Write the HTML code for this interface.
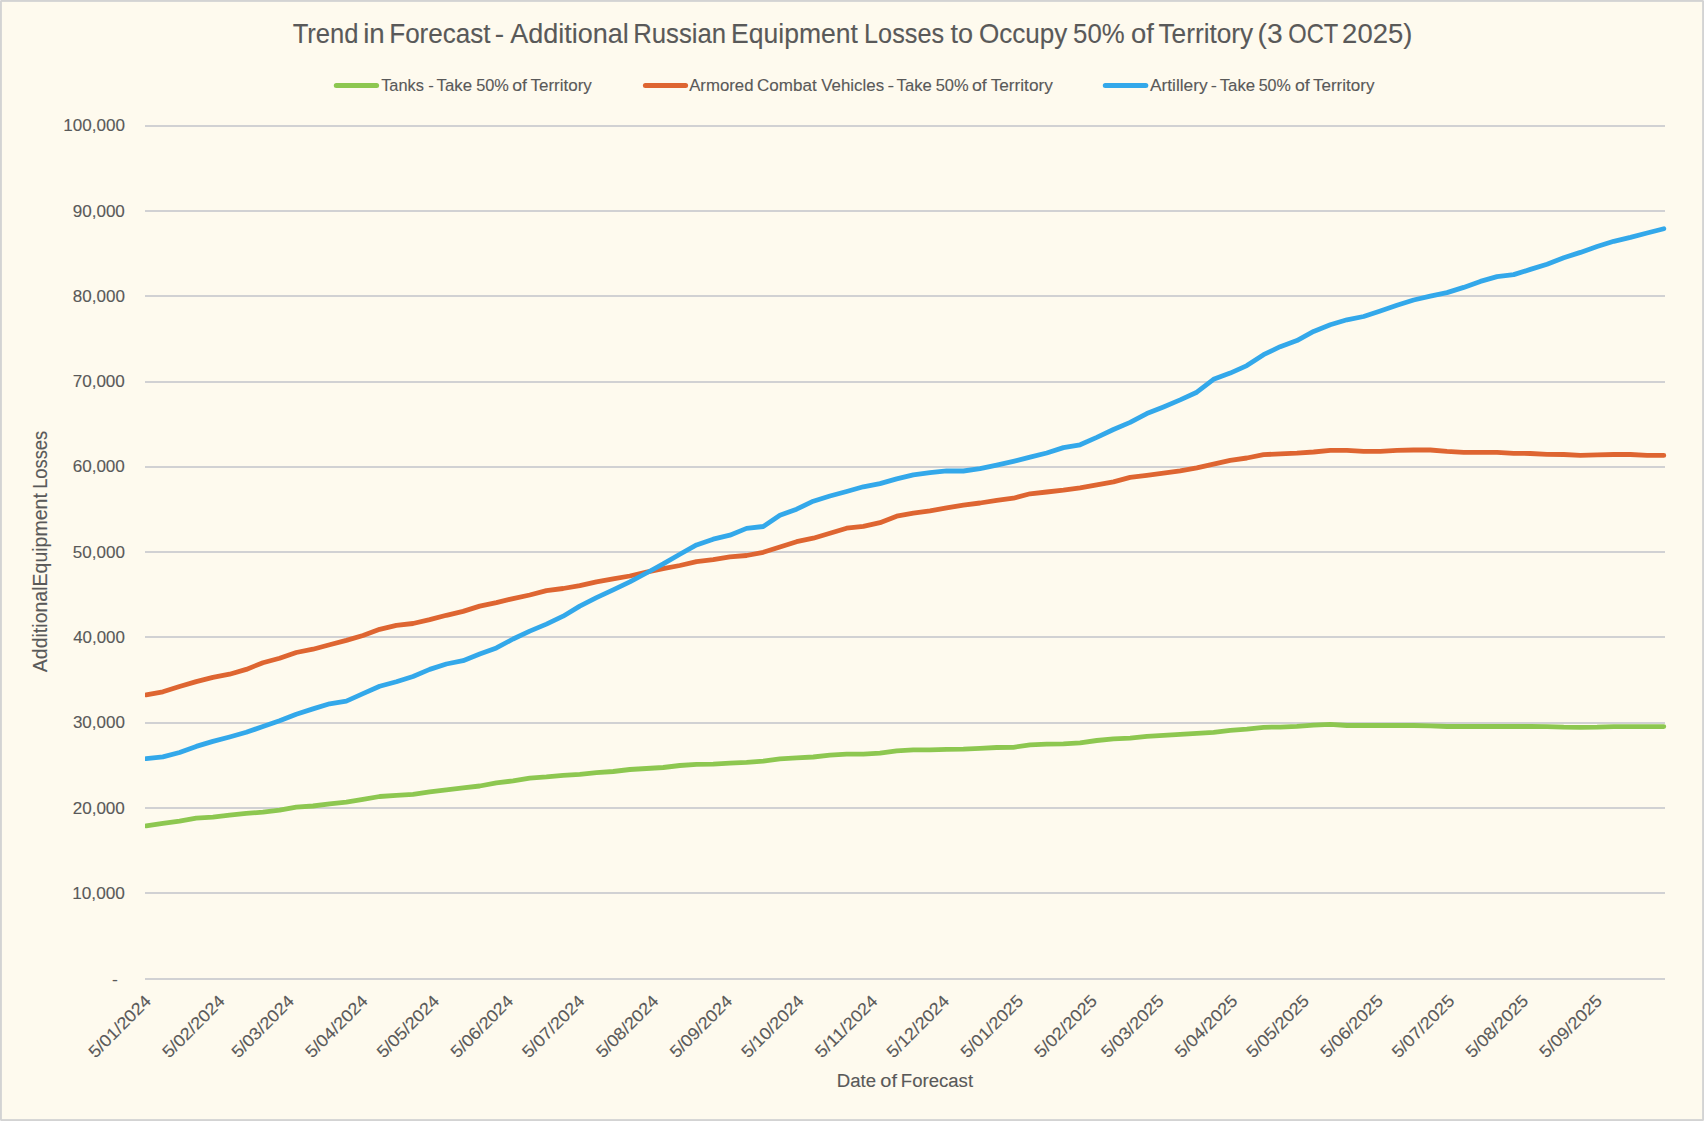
<!DOCTYPE html>
<html lang="en"><head><meta charset="utf-8"><title>Trend in Forecast - Additional Russian Equipment Losses</title>
<style>
html,body{margin:0;padding:0;background:#fefaee;}
body{width:1704px;height:1121px;overflow:hidden;}
svg{display:block;}
svg text{font-family:"Liberation Sans",sans-serif;fill:#595959;stroke:#595959;stroke-width:0.12px;}
</style></head><body>
<svg width="1704" height="1121" viewBox="0 0 1704 1121">
<rect x="0" y="0" width="1704" height="1121" fill="#d3d3d3"/>
<rect x="1.9" y="1.9" width="1700.2" height="1117.2" fill="#fefaee"/>
<g fill="#e4e4e4"><rect x="0" y="0" width="1" height="1"/><rect x="1703" y="0" width="1" height="1"/><rect x="0" y="1120" width="1" height="1"/><rect x="1703" y="1120" width="1" height="1"/></g>
<g id="title">
<text x="292.69" y="42.90" font-size="26.9" textLength="65.85" lengthAdjust="spacingAndGlyphs">Trend</text>
<text x="363.20" y="42.90" font-size="26.9" textLength="21.55" lengthAdjust="spacingAndGlyphs">in</text>
<text x="389.22" y="42.90" font-size="26.9" textLength="101.32" lengthAdjust="spacingAndGlyphs">Forecast</text>
<text x="494.88" y="42.90" font-size="26.9" textLength="9.33" lengthAdjust="spacingAndGlyphs">-</text>
<text x="510.20" y="42.90" font-size="26.9" textLength="118.58" lengthAdjust="spacingAndGlyphs">Additional</text>
<text x="633.14" y="42.90" font-size="26.9" textLength="92.98" lengthAdjust="spacingAndGlyphs">Russian</text>
<text x="731.08" y="42.90" font-size="26.9" textLength="126.85" lengthAdjust="spacingAndGlyphs">Equipment</text>
<text x="864.08" y="42.90" font-size="26.9" textLength="79.96" lengthAdjust="spacingAndGlyphs">Losses</text>
<text x="950.59" y="42.90" font-size="26.9" textLength="22.56" lengthAdjust="spacingAndGlyphs">to</text>
<text x="979.03" y="42.90" font-size="26.9" textLength="88.38" lengthAdjust="spacingAndGlyphs">Occupy</text>
<text x="1073.07" y="42.90" font-size="26.9" textLength="51.57" lengthAdjust="spacingAndGlyphs">50%</text>
<text x="1131.10" y="42.90" font-size="26.9" textLength="22.87" lengthAdjust="spacingAndGlyphs">of</text>
<text x="1158.48" y="42.90" font-size="26.9" textLength="94.76" lengthAdjust="spacingAndGlyphs">Territory</text>
<text x="1257.61" y="42.90" font-size="26.9" textLength="24.99" lengthAdjust="spacingAndGlyphs">(3</text>
<text x="1288.23" y="42.90" font-size="26.9" textLength="49.96" lengthAdjust="spacingAndGlyphs">OCT</text>
<text x="1342.13" y="42.90" font-size="26.9" textLength="70.16" lengthAdjust="spacingAndGlyphs">2025)</text>
</g>
<g id="legend">
<line x1="336.3" y1="85.5" x2="376.6" y2="85.5" stroke="#8dc750" stroke-width="5" stroke-linecap="round"/>
<line x1="645.4" y1="85.5" x2="685.6" y2="85.5" stroke="#de6531" stroke-width="5" stroke-linecap="round"/>
<line x1="1105.3" y1="85.5" x2="1145.8" y2="85.5" stroke="#33a8ea" stroke-width="5" stroke-linecap="round"/>
<text x="381.17" y="90.80" font-size="17" textLength="42.74" lengthAdjust="spacingAndGlyphs">Tanks</text>
<text x="428.13" y="90.80" font-size="17" textLength="5.60" lengthAdjust="spacingAndGlyphs">-</text>
<text x="436.56" y="90.80" font-size="17" textLength="35.55" lengthAdjust="spacingAndGlyphs">Take</text>
<text x="476.15" y="90.80" font-size="17" textLength="32.75" lengthAdjust="spacingAndGlyphs">50%</text>
<text x="512.30" y="90.80" font-size="17" textLength="14.69" lengthAdjust="spacingAndGlyphs">of</text>
<text x="530.46" y="90.80" font-size="17" textLength="61.37" lengthAdjust="spacingAndGlyphs">Territory</text>
<text x="689.20" y="90.80" font-size="17" textLength="64.30" lengthAdjust="spacingAndGlyphs">Armored</text>
<text x="757.05" y="90.80" font-size="17" textLength="59.58" lengthAdjust="spacingAndGlyphs">Combat</text>
<text x="821.30" y="90.80" font-size="17" textLength="62.79" lengthAdjust="spacingAndGlyphs">Vehicles</text>
<text x="887.60" y="90.80" font-size="17" textLength="6.66" lengthAdjust="spacingAndGlyphs">-</text>
<text x="896.57" y="90.80" font-size="17" textLength="35.34" lengthAdjust="spacingAndGlyphs">Take</text>
<text x="935.64" y="90.80" font-size="17" textLength="32.96" lengthAdjust="spacingAndGlyphs">50%</text>
<text x="971.99" y="90.80" font-size="17" textLength="14.79" lengthAdjust="spacingAndGlyphs">of</text>
<text x="990.66" y="90.80" font-size="17" textLength="62.17" lengthAdjust="spacingAndGlyphs">Territory</text>
<text x="1149.90" y="90.80" font-size="17" textLength="57.78" lengthAdjust="spacingAndGlyphs">Artillery</text>
<text x="1210.76" y="90.80" font-size="17" textLength="6.13" lengthAdjust="spacingAndGlyphs">-</text>
<text x="1219.66" y="90.80" font-size="17" textLength="35.55" lengthAdjust="spacingAndGlyphs">Take</text>
<text x="1258.66" y="90.80" font-size="17" textLength="32.23" lengthAdjust="spacingAndGlyphs">50%</text>
<text x="1294.99" y="90.80" font-size="17" textLength="14.79" lengthAdjust="spacingAndGlyphs">of</text>
<text x="1312.96" y="90.80" font-size="17" textLength="61.47" lengthAdjust="spacingAndGlyphs">Territory</text>
</g>
<g id="grid" fill="#d1d1d3" shape-rendering="crispEdges">
<rect x="145" y="978" width="1520" height="2"/>
<rect x="145" y="892" width="1520" height="2"/>
<rect x="145" y="807" width="1520" height="2"/>
<rect x="145" y="722" width="1520" height="2"/>
<rect x="145" y="636" width="1520" height="2"/>
<rect x="145" y="551" width="1520" height="2"/>
<rect x="145" y="466" width="1520" height="2"/>
<rect x="145" y="381" width="1520" height="2"/>
<rect x="145" y="295" width="1520" height="2"/>
<rect x="145" y="210" width="1520" height="2"/>
<rect x="145" y="125" width="1520" height="2"/>
</g>
<g id="ylabels">
<text x="72.21" y="899.30" font-size="17" textLength="52.67" lengthAdjust="spacingAndGlyphs">10,000</text>
<text x="72.65" y="813.90" font-size="17" textLength="52.23" lengthAdjust="spacingAndGlyphs">20,000</text>
<text x="72.91" y="728.10" font-size="17" textLength="51.97" lengthAdjust="spacingAndGlyphs">30,000</text>
<text x="73.16" y="642.80" font-size="17" textLength="51.71" lengthAdjust="spacingAndGlyphs">40,000</text>
<text x="72.82" y="558.00" font-size="17" textLength="52.05" lengthAdjust="spacingAndGlyphs">50,000</text>
<text x="72.65" y="472.40" font-size="17" textLength="52.23" lengthAdjust="spacingAndGlyphs">60,000</text>
<text x="72.65" y="387.10" font-size="17" textLength="52.23" lengthAdjust="spacingAndGlyphs">70,000</text>
<text x="72.82" y="302.15" font-size="17" textLength="52.05" lengthAdjust="spacingAndGlyphs">80,000</text>
<text x="72.73" y="217.05" font-size="17" textLength="52.14" lengthAdjust="spacingAndGlyphs">90,000</text>
<text x="63.32" y="131.05" font-size="17" textLength="61.57" lengthAdjust="spacingAndGlyphs">100,000</text>
<text x="111.90" y="985.00" font-size="17" textLength="5.86" lengthAdjust="spacingAndGlyphs">-</text>
</g>
<g id="xlabels">
<text transform="translate(151.80,1002.50) rotate(-45)" x="-79.72" y="0" font-size="17" textLength="80.15" lengthAdjust="spacingAndGlyphs">5/01/2024</text>
<text transform="translate(225.66,1002.50) rotate(-45)" x="-79.72" y="0" font-size="17" textLength="80.15" lengthAdjust="spacingAndGlyphs">5/02/2024</text>
<text transform="translate(294.75,1002.50) rotate(-45)" x="-79.72" y="0" font-size="17" textLength="80.15" lengthAdjust="spacingAndGlyphs">5/03/2024</text>
<text transform="translate(368.60,1002.50) rotate(-45)" x="-79.72" y="0" font-size="17" textLength="80.15" lengthAdjust="spacingAndGlyphs">5/04/2024</text>
<text transform="translate(440.08,1002.50) rotate(-45)" x="-79.72" y="0" font-size="17" textLength="80.15" lengthAdjust="spacingAndGlyphs">5/05/2024</text>
<text transform="translate(513.93,1002.50) rotate(-45)" x="-79.72" y="0" font-size="17" textLength="80.15" lengthAdjust="spacingAndGlyphs">5/06/2024</text>
<text transform="translate(585.41,1002.50) rotate(-45)" x="-79.72" y="0" font-size="17" textLength="80.15" lengthAdjust="spacingAndGlyphs">5/07/2024</text>
<text transform="translate(659.26,1002.50) rotate(-45)" x="-79.72" y="0" font-size="17" textLength="80.15" lengthAdjust="spacingAndGlyphs">5/08/2024</text>
<text transform="translate(733.12,1002.50) rotate(-45)" x="-79.72" y="0" font-size="17" textLength="80.15" lengthAdjust="spacingAndGlyphs">5/09/2024</text>
<text transform="translate(804.59,1002.50) rotate(-45)" x="-79.72" y="0" font-size="17" textLength="80.15" lengthAdjust="spacingAndGlyphs">5/10/2024</text>
<text transform="translate(878.45,1002.50) rotate(-45)" x="-79.73" y="0" font-size="17" textLength="80.18" lengthAdjust="spacingAndGlyphs">5/11/2024</text>
<text transform="translate(949.92,1002.50) rotate(-45)" x="-79.72" y="0" font-size="17" textLength="80.15" lengthAdjust="spacingAndGlyphs">5/12/2024</text>
<text transform="translate(1023.77,1002.50) rotate(-45)" x="-79.72" y="0" font-size="17" textLength="80.43" lengthAdjust="spacingAndGlyphs">5/01/2025</text>
<text transform="translate(1097.63,1002.50) rotate(-45)" x="-79.72" y="0" font-size="17" textLength="80.43" lengthAdjust="spacingAndGlyphs">5/02/2025</text>
<text transform="translate(1164.34,1002.50) rotate(-45)" x="-79.72" y="0" font-size="17" textLength="80.43" lengthAdjust="spacingAndGlyphs">5/03/2025</text>
<text transform="translate(1238.19,1002.50) rotate(-45)" x="-79.72" y="0" font-size="17" textLength="80.43" lengthAdjust="spacingAndGlyphs">5/04/2025</text>
<text transform="translate(1309.67,1002.50) rotate(-45)" x="-79.72" y="0" font-size="17" textLength="80.43" lengthAdjust="spacingAndGlyphs">5/05/2025</text>
<text transform="translate(1383.52,1002.50) rotate(-45)" x="-79.72" y="0" font-size="17" textLength="80.43" lengthAdjust="spacingAndGlyphs">5/06/2025</text>
<text transform="translate(1455.00,1002.50) rotate(-45)" x="-79.72" y="0" font-size="17" textLength="80.43" lengthAdjust="spacingAndGlyphs">5/07/2025</text>
<text transform="translate(1528.85,1002.50) rotate(-45)" x="-79.72" y="0" font-size="17" textLength="80.43" lengthAdjust="spacingAndGlyphs">5/08/2025</text>
<text transform="translate(1602.71,1002.50) rotate(-45)" x="-79.72" y="0" font-size="17" textLength="80.43" lengthAdjust="spacingAndGlyphs">5/09/2025</text>
</g>
<g id="axtitles">
<text x="836.81" y="1087.40" font-size="19.2" textLength="39.27" lengthAdjust="spacingAndGlyphs">Date</text>
<text x="880.30" y="1087.40" font-size="19.2" textLength="16.68" lengthAdjust="spacingAndGlyphs">of</text>
<text x="900.81" y="1087.40" font-size="19.2" textLength="72.28" lengthAdjust="spacingAndGlyphs">Forecast</text>
<text transform="translate(47.0,0) rotate(-90)" x="-672.20" y="0" font-size="19.5" textLength="85.72" lengthAdjust="spacingAndGlyphs">Additional</text>
<text transform="translate(47.0,0) rotate(-90)" x="-586.46" y="0" font-size="19.5" textLength="93.28" lengthAdjust="spacingAndGlyphs">Equipment</text>
<text transform="translate(47.0,0) rotate(-90)" x="-488.87" y="0" font-size="19.5" textLength="58.08" lengthAdjust="spacingAndGlyphs">Losses</text>
</g>
<clipPath id="pc"><rect x="145" y="100" width="1559" height="900"/></clipPath>
<g id="series" fill="none" stroke-width="4.8" stroke-linecap="round" stroke-linejoin="round" clip-path="url(#pc)">
<path stroke="#8dc750" d="M146.19,825.80C146.19,825.80 162.87,823.40 162.87,823.40C162.87,823.40 179.54,821.20 179.54,821.20C179.54,821.20 196.22,818.20 196.22,818.20C196.22,818.20 212.90,817.20 212.90,817.20C212.90,817.20 229.58,815.20 229.58,815.20C229.58,815.20 246.25,813.40 246.25,813.40C246.25,813.40 262.93,812.20 262.93,812.20C262.93,812.20 279.61,810.20 279.61,810.20C279.61,810.20 296.28,807.20 296.28,807.20C296.28,807.20 312.96,806.00 312.96,806.00C312.96,806.00 329.64,803.80 329.64,803.80C329.64,803.80 346.32,802.10 346.32,802.10C346.32,802.10 362.99,799.30 362.99,799.30C362.99,799.30 379.67,796.50 379.67,796.50C379.67,796.50 396.35,795.30 396.35,795.30C396.35,795.30 413.02,794.30 413.02,794.30C413.02,794.30 429.70,791.90 429.70,791.90C429.70,791.90 446.38,789.90 446.38,789.90C446.38,789.90 463.06,787.90 463.06,787.90C463.06,787.90 479.73,786.00 479.73,786.00C479.73,786.00 496.41,782.80 496.41,782.80C496.41,782.80 513.09,780.90 513.09,780.90C513.09,780.90 529.76,778.10 529.76,778.10C529.76,778.10 546.44,776.90 546.44,776.90C546.44,776.90 563.12,775.30 563.12,775.30C563.12,775.30 579.80,774.30 579.80,774.30C579.80,774.30 596.47,772.70 596.47,772.70C596.47,772.70 613.15,771.50 613.15,771.50C613.15,771.50 629.83,769.50 629.83,769.50C629.83,769.50 646.50,768.50 646.50,768.50C646.50,768.50 663.18,767.50 663.18,767.50C663.18,767.50 679.86,765.50 679.86,765.50C679.86,765.50 696.53,764.30 696.53,764.30C696.53,764.30 713.21,764.10 713.21,764.10C713.21,764.10 729.89,763.10 729.89,763.10C729.89,763.10 746.57,762.30 746.57,762.30C746.57,762.30 763.24,761.10 763.24,761.10C763.24,761.10 779.92,758.90 779.92,758.90C779.92,758.90 796.60,757.90 796.60,757.90C796.60,757.90 813.27,757.00 813.27,757.00C813.27,757.00 829.95,755.20 829.95,755.20C829.95,755.20 846.63,754.20 846.63,754.20C846.63,754.20 863.31,754.20 863.31,754.20C863.31,754.20 879.98,753.20 879.98,753.20C879.98,753.20 896.66,750.90 896.66,750.90C896.66,750.90 913.34,749.90 913.34,749.90C913.34,749.90 930.01,749.90 930.01,749.90C930.01,749.90 946.69,749.30 946.69,749.30C946.69,749.30 963.37,749.10 963.37,749.10C963.37,749.10 980.05,748.30 980.05,748.30C980.05,748.30 996.72,747.50 996.72,747.50C996.72,747.50 1013.40,747.30 1013.40,747.30C1013.40,747.30 1030.08,744.90 1030.08,744.90C1030.08,744.90 1046.75,744.10 1046.75,744.10C1046.75,744.10 1063.43,743.90 1063.43,743.90C1063.43,743.90 1080.11,742.90 1080.11,742.90C1080.11,742.90 1096.79,740.50 1096.79,740.50C1096.79,740.50 1113.46,738.90 1113.46,738.90C1113.46,738.90 1130.14,738.20 1130.14,738.20C1130.14,738.20 1146.82,736.40 1146.82,736.40C1146.82,736.40 1163.49,735.30 1163.49,735.30C1163.49,735.30 1180.17,734.30 1180.17,734.30C1180.17,734.30 1196.85,733.30 1196.85,733.30C1196.85,733.30 1213.53,732.30 1213.53,732.30C1213.53,732.30 1230.20,730.30 1230.20,730.30C1230.20,730.30 1246.88,729.10 1246.88,729.10C1246.88,729.10 1263.56,727.30 1263.56,727.30C1263.56,727.30 1280.23,727.10 1280.23,727.10C1280.23,727.10 1296.91,726.30 1296.91,726.30C1296.91,726.30 1313.59,725.10 1313.59,725.10C1313.59,725.10 1330.27,724.30 1330.27,724.30C1330.27,724.30 1346.94,725.50 1346.94,725.50C1346.94,725.50 1363.62,725.50 1363.62,725.50C1363.62,725.50 1380.30,725.50 1380.30,725.50C1380.30,725.50 1396.97,725.50 1396.97,725.50C1396.97,725.50 1413.65,725.50 1413.65,725.50C1413.65,725.50 1430.33,725.90 1430.33,725.90C1430.33,725.90 1447.01,726.50 1447.01,726.50C1447.01,726.50 1463.68,726.50 1463.68,726.50C1463.68,726.50 1480.36,726.50 1480.36,726.50C1480.36,726.50 1497.04,726.50 1497.04,726.50C1497.04,726.50 1513.71,726.50 1513.71,726.50C1513.71,726.50 1530.39,726.50 1530.39,726.50C1530.39,726.50 1547.07,726.60 1547.07,726.60C1547.07,726.60 1563.74,727.20 1563.74,727.20C1563.74,727.20 1580.42,727.30 1580.42,727.30C1580.42,727.30 1597.10,727.20 1597.10,727.20C1597.10,727.20 1613.78,726.70 1613.78,726.70C1613.78,726.70 1630.45,726.60 1630.45,726.60C1630.45,726.60 1647.13,726.60 1647.13,726.60C1647.13,726.60 1663.81,726.60 1663.81,726.60"/>
<path stroke="#de6531" d="M146.19,694.80C146.19,694.80 162.87,691.80 162.87,691.80C162.87,691.80 179.54,686.50 179.54,686.50C179.54,686.50 196.22,681.60 196.22,681.60C196.22,681.60 212.90,677.40 212.90,677.40C212.90,677.40 229.58,674.20 229.58,674.20C229.58,674.20 246.25,669.40 246.25,669.40C246.25,669.40 262.93,662.70 262.93,662.70C262.93,662.70 279.61,658.30 279.61,658.30C279.61,658.30 296.28,652.50 296.28,652.50C296.28,652.50 312.96,649.20 312.96,649.20C312.96,649.20 329.64,644.80 329.64,644.80C329.64,644.80 346.32,640.40 346.32,640.40C346.32,640.40 362.99,635.50 362.99,635.50C362.99,635.50 379.67,629.30 379.67,629.30C379.67,629.30 396.35,625.40 396.35,625.40C396.35,625.40 413.02,623.50 413.02,623.50C413.02,623.50 429.70,619.60 429.70,619.60C429.70,619.60 446.38,615.30 446.38,615.30C446.38,615.30 463.06,611.40 463.06,611.40C463.06,611.40 479.73,606.10 479.73,606.10C479.73,606.10 496.41,602.60 496.41,602.60C496.41,602.60 513.09,598.60 513.09,598.60C513.09,598.60 529.76,595.00 529.76,595.00C529.76,595.00 546.44,590.60 546.44,590.60C546.44,590.60 563.12,588.50 563.12,588.50C563.12,588.50 579.80,585.70 579.80,585.70C579.80,585.70 596.47,581.80 596.47,581.80C596.47,581.80 613.15,578.80 613.15,578.80C613.15,578.80 629.83,576.00 629.83,576.00C629.83,576.00 646.50,572.10 646.50,572.10C646.50,572.10 663.18,568.60 663.18,568.60C663.18,568.60 679.86,565.50 679.86,565.50C679.86,565.50 696.53,561.60 696.53,561.60C696.53,561.60 713.21,559.60 713.21,559.60C713.21,559.60 729.89,556.80 729.89,556.80C729.89,556.80 746.57,555.50 746.57,555.50C746.57,555.50 763.24,552.30 763.24,552.30C763.24,552.30 779.92,547.00 779.92,547.00C779.92,547.00 796.60,541.70 796.60,541.70C796.60,541.70 813.27,538.20 813.27,538.20C813.27,538.20 829.95,533.30 829.95,533.30C829.95,533.30 846.63,528.20 846.63,528.20C846.63,528.20 863.31,526.40 863.31,526.40C863.31,526.40 879.98,522.70 879.98,522.70C879.98,522.70 896.66,516.20 896.66,516.20C896.66,516.20 913.34,513.20 913.34,513.20C913.34,513.20 930.01,510.90 930.01,510.90C930.01,510.90 946.69,507.90 946.69,507.90C946.69,507.90 963.37,505.10 963.37,505.10C963.37,505.10 980.05,503.00 980.05,503.00C980.05,503.00 996.72,500.40 996.72,500.40C996.72,500.40 1013.40,498.20 1013.40,498.20C1013.40,498.20 1030.08,493.80 1030.08,493.80C1030.08,493.80 1046.75,492.00 1046.75,492.00C1046.75,492.00 1063.43,490.20 1063.43,490.20C1063.43,490.20 1080.11,487.90 1080.11,487.90C1080.11,487.90 1096.79,484.90 1096.79,484.90C1096.79,484.90 1113.46,481.90 1113.46,481.90C1113.46,481.90 1130.14,477.40 1130.14,477.40C1130.14,477.40 1146.82,475.30 1146.82,475.30C1146.82,475.30 1163.49,473.10 1163.49,473.10C1163.49,473.10 1180.17,470.90 1180.17,470.90C1180.17,470.90 1196.85,467.90 1196.85,467.90C1196.85,467.90 1213.53,464.20 1213.53,464.20C1213.53,464.20 1230.20,460.30 1230.20,460.30C1230.20,460.30 1246.88,458.00 1246.88,458.00C1246.88,458.00 1263.56,454.70 1263.56,454.70C1263.56,454.70 1280.23,453.80 1280.23,453.80C1280.23,453.80 1296.91,453.10 1296.91,453.10C1296.91,453.10 1313.59,452.00 1313.59,452.00C1313.59,452.00 1330.27,450.30 1330.27,450.30C1330.27,450.30 1346.94,450.30 1346.94,450.30C1346.94,450.30 1363.62,451.40 1363.62,451.40C1363.62,451.40 1380.30,451.40 1380.30,451.40C1380.30,451.40 1396.97,450.40 1396.97,450.40C1396.97,450.40 1413.65,450.00 1413.65,450.00C1413.65,450.00 1430.33,450.00 1430.33,450.00C1430.33,450.00 1447.01,451.40 1447.01,451.40C1447.01,451.40 1463.68,452.30 1463.68,452.30C1463.68,452.30 1480.36,452.30 1480.36,452.30C1480.36,452.30 1497.04,452.30 1497.04,452.30C1497.04,452.30 1513.71,453.30 1513.71,453.30C1513.71,453.30 1530.39,453.50 1530.39,453.50C1530.39,453.50 1547.07,454.30 1547.07,454.30C1547.07,454.30 1563.74,454.50 1563.74,454.50C1563.74,454.50 1580.42,455.40 1580.42,455.40C1580.42,455.40 1597.10,454.90 1597.10,454.90C1597.10,454.90 1613.78,454.50 1613.78,454.50C1613.78,454.50 1630.45,454.50 1630.45,454.50C1630.45,454.50 1647.13,455.40 1647.13,455.40C1647.13,455.40 1663.81,455.40 1663.81,455.40"/>
<path stroke="#33a8ea" d="M146.19,758.70C146.19,758.70 162.87,756.90 162.87,756.90C162.87,756.90 179.54,752.50 179.54,752.50C179.54,752.50 196.22,746.40 196.22,746.40C196.22,746.40 212.90,741.40 212.90,741.40C212.90,741.40 229.58,737.00 229.58,737.00C229.58,737.00 246.25,732.30 246.25,732.30C246.25,732.30 262.93,726.50 262.93,726.50C262.93,726.50 279.61,720.80 279.61,720.80C279.61,720.80 296.28,714.20 296.28,714.20C296.28,714.20 312.96,708.90 312.96,708.90C312.96,708.90 329.64,703.80 329.64,703.80C329.64,703.80 346.32,701.10 346.32,701.10C346.32,701.10 362.99,693.60 362.99,693.60C362.99,693.60 379.67,686.20 379.67,686.20C379.67,686.20 396.35,681.80 396.35,681.80C396.35,681.80 413.02,676.50 413.02,676.50C413.02,676.50 429.70,669.40 429.70,669.40C429.70,669.40 446.38,664.00 446.38,664.00C446.38,664.00 463.06,660.70 463.06,660.70C463.06,660.70 479.73,654.00 479.73,654.00C479.73,654.00 496.41,647.90 496.41,647.90C496.41,647.90 513.09,639.00 513.09,639.00C513.09,639.00 529.76,631.10 529.76,631.10C529.76,631.10 546.44,624.10 546.44,624.10C546.44,624.10 563.12,616.20 563.12,616.20C563.12,616.20 579.80,606.10 579.80,606.10C579.80,606.10 596.47,597.70 596.47,597.70C596.47,597.70 613.15,589.80 613.15,589.80C613.15,589.80 629.83,581.80 629.83,581.80C629.83,581.80 646.50,573.00 646.50,573.00C646.50,573.00 663.18,563.90 663.18,563.90C663.18,563.90 679.86,554.20 679.86,554.20C679.86,554.20 696.53,544.90 696.53,544.90C696.53,544.90 713.21,539.20 713.21,539.20C713.21,539.20 729.89,535.20 729.89,535.20C729.89,535.20 746.57,528.40 746.57,528.40C746.57,528.40 763.24,526.50 763.24,526.50C763.24,526.50 779.92,515.30 779.92,515.30C779.92,515.30 796.60,509.20 796.60,509.20C796.60,509.20 813.27,501.20 813.27,501.20C813.27,501.20 829.95,496.00 829.95,496.00C829.95,496.00 846.63,491.50 846.63,491.50C846.63,491.50 863.31,486.80 863.31,486.80C863.31,486.80 879.98,483.60 879.98,483.60C879.98,483.60 896.66,478.90 896.66,478.90C896.66,478.90 913.34,474.80 913.34,474.80C913.34,474.80 930.01,472.70 930.01,472.70C930.01,472.70 946.69,470.80 946.69,470.80C946.69,470.80 963.37,471.00 963.37,471.00C963.37,471.00 980.05,468.70 980.05,468.70C980.05,468.70 996.72,465.10 996.72,465.10C996.72,465.10 1013.40,461.30 1013.40,461.30C1013.40,461.30 1030.08,457.20 1030.08,457.20C1030.08,457.20 1046.75,453.00 1046.75,453.00C1046.75,453.00 1063.43,447.60 1063.43,447.60C1063.43,447.60 1080.11,444.80 1080.11,444.80C1080.11,444.80 1096.79,437.40 1096.79,437.40C1096.79,437.40 1113.46,429.50 1113.46,429.50C1113.46,429.50 1130.14,422.40 1130.14,422.40C1130.14,422.40 1146.82,413.60 1146.82,413.60C1146.82,413.60 1163.49,406.90 1163.49,406.90C1163.49,406.90 1180.17,399.90 1180.17,399.90C1180.17,399.90 1196.85,392.20 1196.85,392.20C1196.85,392.20 1213.53,379.30 1213.53,379.30C1213.53,379.30 1230.20,373.10 1230.20,373.10C1230.20,373.10 1246.88,365.60 1246.88,365.60C1246.88,365.60 1263.56,354.70 1263.56,354.70C1263.56,354.70 1280.23,346.70 1280.23,346.70C1280.23,346.70 1296.91,340.60 1296.91,340.60C1296.91,340.60 1313.59,331.40 1313.59,331.40C1313.59,331.40 1330.27,324.70 1330.27,324.70C1330.27,324.70 1346.94,319.80 1346.94,319.80C1346.94,319.80 1363.62,316.50 1363.62,316.50C1363.62,316.50 1380.30,311.00 1380.30,311.00C1380.30,311.00 1396.97,305.20 1396.97,305.20C1396.97,305.20 1413.65,300.00 1413.65,300.00C1413.65,300.00 1430.33,296.10 1430.33,296.10C1430.33,296.10 1447.01,292.60 1447.01,292.60C1447.01,292.60 1463.68,287.40 1463.68,287.40C1463.68,287.40 1480.36,281.40 1480.36,281.40C1480.36,281.40 1497.04,276.60 1497.04,276.60C1497.04,276.60 1513.71,274.60 1513.71,274.60C1513.71,274.60 1530.39,269.40 1530.39,269.40C1530.39,269.40 1547.07,264.20 1547.07,264.20C1547.07,264.20 1563.74,257.80 1563.74,257.80C1563.74,257.80 1580.42,252.40 1580.42,252.40C1580.42,252.40 1597.10,246.50 1597.10,246.50C1597.10,246.50 1613.78,241.30 1613.78,241.30C1613.78,241.30 1630.45,237.40 1630.45,237.40C1630.45,237.40 1647.13,233.00 1647.13,233.00C1647.13,233.00 1663.81,228.70 1663.81,228.70"/>
</g>
</svg>
</body></html>
